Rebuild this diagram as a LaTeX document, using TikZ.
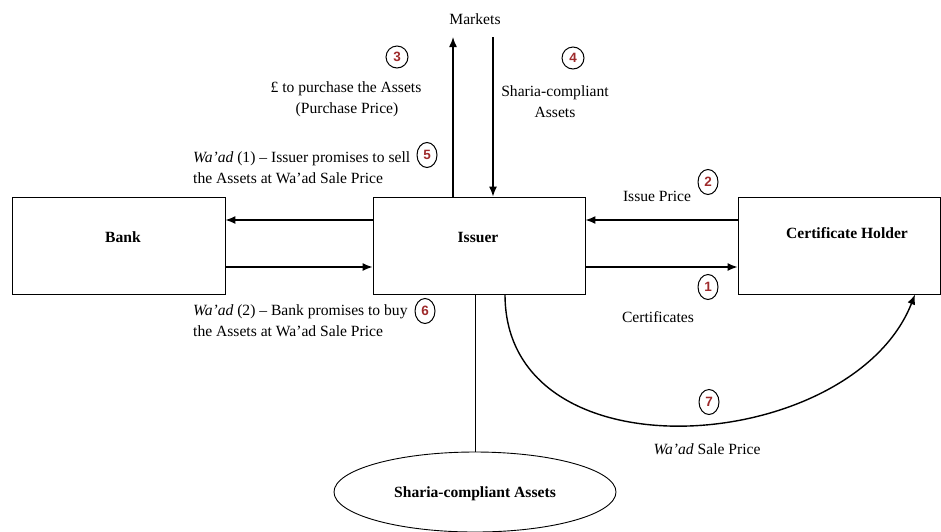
\documentclass[tikz,border=0pt]{standalone}
\usepackage{fontspec}
\setmainfont{Liberation Serif}
\newfontfamily\numfont{Liberation Sans}
\usetikzlibrary{arrows.meta,shapes.geometric}
\definecolor{numred}{HTML}{9E2A2B}
\tikzset{
  box/.style={draw, line width=0.9pt, minimum width=#1, minimum height=97pt, inner sep=0pt},
  lbl/.style={font=\fontsize{15.6}{19}\selectfont, inner sep=0pt, anchor=base},
  lblw/.style={lbl, anchor=base west},
  blbl/.style={lbl, font=\fontsize{15.6}{19}\selectfont\bfseries},
  num/.style={draw, ellipse, line width=1pt, minimum width=20pt, minimum height=25pt, inner sep=0pt, text=numred, font=\numfont\fontsize{13.5}{14}\selectfont\bfseries},
  rnum/.style={num, minimum width=22pt, minimum height=22pt},
  arr/.style={line width=1.4pt, -{Latex[length=10pt,width=8pt]}},
  thin/.style={line width=0.9pt},
}
\begin{document}
\begin{tikzpicture}[x=1pt,y=-1pt]
\useasboundingbox (0,0) rectangle (941,531);
% boxes
\node[box=213pt] (bank) at (118.5,245.5) {};
\node[box=212pt] (issuer) at (479,245.5) {};
\node[box=202pt] (holder) at (839,245.5) {};
\node[blbl] (banklbl) at (123,242) {Bank};
\node[blbl] (issuerlbl) at (478,242) {Issuer};
\node[blbl] (holderlbl) at (847,238) {Certificate Holder};
% ellipse
\node[draw, thin, ellipse, minimum width=282pt, minimum height=80pt, inner sep=0pt] (assets) at (475,492) {};
\node[blbl] (assetslbl) at (475,497) {Sharia-compliant Assets};
% helper coordinates
\coordinate (yA) at (0,220);
\coordinate (yB) at (0,267);
\coordinate (xUp) at (453,0);
\coordinate (xDown) at (493,0);
\coordinate (xCurveS) at (505,0);
\coordinate (xCurveE) at (915,0);
\coordinate (mktTop) at (0,37);
\node[lbl] (markets) at (475,24) {Markets};
% arrows to/from markets
\draw[arr] (issuer.north -| xUp) -- (xUp |- mktTop);
\draw[arr] (xDown |- mktTop) -- (issuer.north -| xDown);
% bank <-> issuer
\draw[arr] (issuer.west |- yA) -- (bank.east |- yA);
\draw[arr] (bank.east |- yB) -- (issuer.west |- yB);
% issuer <-> holder
\draw[arr] (holder.west |- yA) -- (issuer.east |- yA);
\draw[arr] (issuer.east |- yB) -- (holder.west |- yB);
% line to assets
\draw[thin] (issuer.south -| assets.north) -- (assets.north);
% curve
\draw[arr] (issuer.south -| xCurveS) .. controls (505,482) and (852,455) .. (holder.south -| xCurveE);
% labels
\node[rnum] (n3) at (397,57) {3};
\node[rnum] (n4) at (573,58) {4};
\node[lbl] (t3a) at (346,92) {£ to purchase the Assets};
\node[lbl] (t3b) at (347,113) {(Purchase Price)};
\node[lbl] (t4a) at (555,96) {Sharia-compliant};
\node[lbl] (t4b) at (555,117) {Assets};
\node[lblw] (t5a) at (193,162) {\textit{Wa’ad} (1) – Issuer promises to sell};
\node[lblw] (t5b) at (193,183) {the Assets at Wa’ad Sale Price};
\node[num] (n5) at (427,155) {5};
\node[lblw] (t6a) at (193,315) {\textit{Wa’ad} (2) – Bank promises to buy};
\node[lblw] (t6b) at (193,336) {the Assets at Wa’ad Sale Price};
\node[num] (n6) at (425,311) {6};
\node[lbl] (t2) at (657,201) {Issue Price};
\node[num] (n2) at (708,182) {2};
\node[num] (n1) at (708,287) {1};
\node[lbl] (t1) at (658,322) {Certificates};
\node[num] (n7) at (709,402) {7};
\node[lbl] (t7) at (707,454) {\textit{Wa’ad} Sale Price};
\end{tikzpicture}
\end{document}
